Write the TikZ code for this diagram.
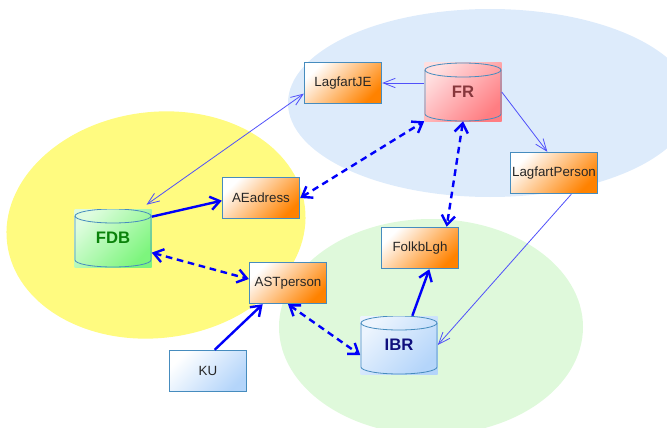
\documentclass[tikz,border=0pt]{standalone}
\usepackage{fontspec}
\setmainfont{Liberation Sans}
\usetikzlibrary{arrows.meta,positioning}
\definecolor{zoneyellow}{RGB}{255,251,128}
\definecolor{zoneblue}{RGB}{221,235,251}
\definecolor{zonegreen}{RGB}{223,249,219}
\definecolor{taborange}{RGB}{255,130,0}
\definecolor{tabline}{RGB}{70,140,190}
\definecolor{flowblue}{RGB}{0,0,250}
\definecolor{refblue}{RGB}{80,80,250}
\definecolor{frpink}{RGB}{255,125,130}
\definecolor{frtext}{RGB}{135,55,60}
\definecolor{fdbgreen}{RGB}{125,245,125}
\definecolor{fdbtext}{RGB}{10,130,10}
\definecolor{ibrblue}{RGB}{180,213,250}
\definecolor{ibrtext}{RGB}{15,15,125}
\tikzset{flowhead/.tip={Straight Barb[length=7pt,width=10pt]},
  refhead/.tip={Straight Barb[length=9pt,width=7pt]},
  tabbox/.style={draw=tabline,line width=0.8pt,minimum width=58pt,minimum height=31pt,inner sep=1pt,
    top color=white,middle color=taborange!55,bottom color=taborange,shading angle=45,
    font=\fontsize{10}{12}\selectfont,text=black!85},
  kubox/.style={top color=white,middle color=ibrblue!50,bottom color=ibrblue,shading angle=45},
  dbstore/.style={minimum width=57.75pt,minimum height=43.5pt,inner sep=0pt,
    top color=#1!25,bottom color=#1,shading angle=45,
    font=\bfseries\fontsize{12.5}{14}\selectfont,
    path picture={
      \draw[tabline,line width=0.6pt] ([shift={(-28.5pt,16.5pt)}]path picture bounding box.center)
        -- ++(0pt,-33pt) arc[start angle=180,end angle=360,x radius=28.5pt,y radius=5.25pt] -- ++(0pt,33pt);
      \draw[tabline,line width=0.6pt] ([yshift=16.5pt]path picture bounding box.center) ellipse [x radius=28.5pt,y radius=5.25pt];
    }},
  refarrow/.style={refblue,line width=0.6pt,-refhead},
  flow/.style={flowblue,line width=1.8pt,-flowhead},
  sync/.style={flow,dash pattern=on 5pt off 3.5pt,flowhead-flowhead}}

\begin{document}
\begin{tikzpicture}[x=0.75pt,y=-0.75pt]
\useasboundingbox (0,0) rectangle (667,428);

% The zones
\fill[zoneblue] (490,103) ellipse (202 and 94);
\fill[zoneyellow,rotate around={7:(156,225)}] (156,225) ellipse (150 and 113);
\fill[zonegreen] (431,327) ellipse (152 and 108);

% Nodes
\node[tabbox] (LagfartJE) at (343,83) {LagfartJE};
\node[dbstore=frpink,text=frtext] (FR) at (463,92) {FR};
\node[tabbox] (LagfartPerson) at (554,173) {LagfartPerson};
\node[tabbox] (AEadress) at (261,198) {AEadress};
\node[dbstore=fdbgreen,text=fdbtext] (FDB) at (113,238) {FDB};
\node[tabbox] (FolkbLgh) at (420,248) {FolkbLgh};
\node[tabbox] (ASTperson) at (288,283) {ASTperson};
\node[dbstore=ibrblue,text=ibrtext] (IBR) at (399,345) {IBR};
\node[tabbox,kubox] (KU) at (208,371) {KU};

% The thin references
\draw[refarrow] (FR.west |- LagfartJE.east) -- (LagfartJE.east);
\draw[refarrow] (FR.east) -- ([xshift=-5pt]LagfartPerson.north);
\draw[refarrow] ([xshift=13pt]LagfartPerson.south) -- (IBR.east);
\draw[refarrow,refhead-refhead] ([yshift=-8pt]LagfartJE.west) -- ([xshift=-4pt,yshift=3pt]FDB.north east);

% The flows
\draw[flow] ([yshift=16pt]FDB.east) -- ([yshift=-2pt]AEadress.west);
\draw[flow] ([xshift=5pt]KU.north) -- ([xshift=-19pt]ASTperson.south);
\draw[flow] ([xshift=10pt]IBR.north) -- ([xshift=7pt]FolkbLgh.south);

% Syncs (dashed)
\draw[sync] (AEadress.east) -- (FR.south west);
\draw[sync] (FR.south) -- ([xshift=20pt]FolkbLgh.north);
\draw[sync] ([yshift=-11pt]FDB.east) -- ([yshift=3pt]ASTperson.west);
\draw[sync] (ASTperson.south) -- ([yshift=-7.5pt]IBR.west);

\end{tikzpicture}
\end{document}
